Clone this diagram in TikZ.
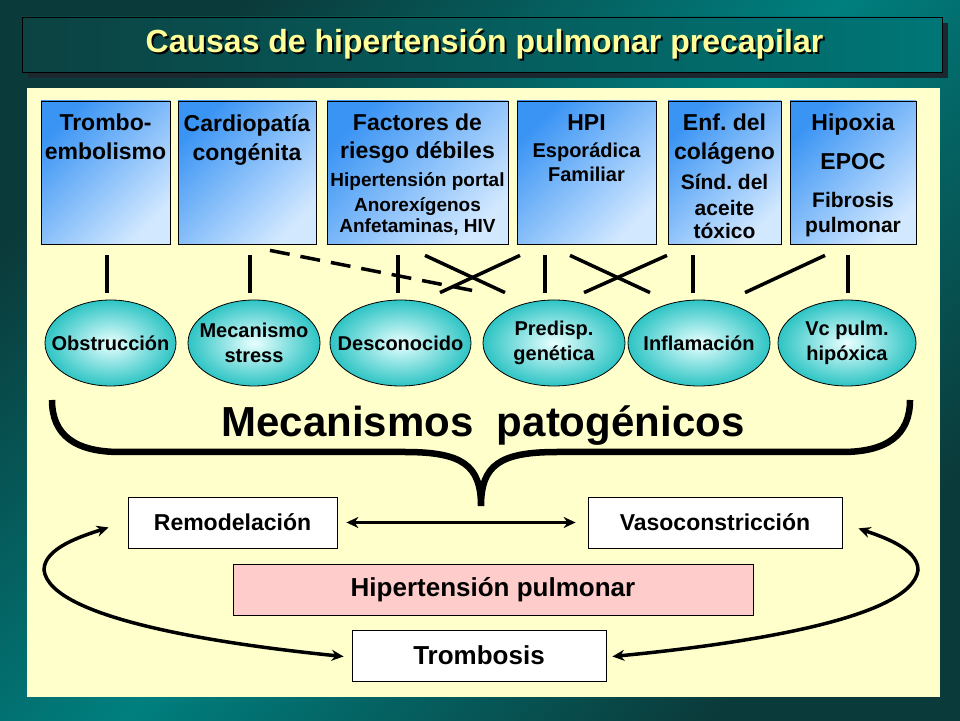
\documentclass[tikz,border=0pt]{standalone}
\usepackage{fontspec}
\setmainfont{Liberation Sans}
\usetikzlibrary{arrows.meta,positioning,calc,shapes.geometric}
\definecolor{hpBgDark}{HTML}{0B3A3A}
\definecolor{hpBgLight}{HTML}{007F7F}
\definecolor{hpBarDark}{HTML}{0C4242}
\definecolor{hpBarLight}{HTML}{007676}
\definecolor{hpShadow}{HTML}{1C2830}
\definecolor{hpTitle}{HTML}{FFFF99}
\definecolor{hpPanel}{HTML}{FFFFCC}
\definecolor{hpBlue}{HTML}{3A94F4}
\definecolor{hpBlueLight}{HTML}{D2E8FF}
\definecolor{hpCyan}{HTML}{2EC4C4}
\definecolor{hpCyanLight}{HTML}{E8FFFF}
\definecolor{hpPink}{HTML}{FFCCCC}
\newcommand\tline[3]{{\fontsize{#1}{#2}\selectfont\spaceskip=\fontdimen2\font\relax\xspaceskip=\spaceskip #3\par}}

\begin{document}
\begin{tikzpicture}[x=1pt,y=1pt,
  cause/.style={draw=black,line width=0.8pt,minimum height=143pt,inner sep=0pt,
    left color=hpBlue,right color=hpBlueLight,shading angle=45},
  causetxt/.style={inner sep=0pt,align=center,font=\bfseries},
  mech/.style={ellipse,draw=black,line width=0.8pt,minimum height=86pt,inner sep=0pt,
    inner color=hpCyanLight,outer color=hpCyan},
  mechtxt/.style={inner sep=0pt,align=center,font=\bfseries\fontsize{20}{25}\selectfont},
  effect/.style={draw=black,line width=0.8pt,fill=white,minimum height=51pt,inner sep=0pt,
    font=\bfseries\fontsize{23}{28}\selectfont},
  titletxt/.style={text=hpTitle,font=\bfseries\fontsize{32}{38}\selectfont},
  link/.style={line width=3.5pt},
  dbl/.style={line width=3.5pt,{Stealth[length=12pt,width=11pt]}-{Stealth[length=12pt,width=11pt]}}
]
\useasboundingbox (0,0) rectangle (960,720);
\fill[left color=hpBgDark,right color=hpBgDark,middle color=hpBgLight,shading angle=45] (0,0) rectangle (960,720);

\fill[hpShadow] (28,642) rectangle (948,697);
\node[draw=black,line width=0.8pt,minimum width=920pt,minimum height=55pt,inner sep=0pt,
  left color=hpBarDark,right color=hpBarLight] (bar) at (482,675.5) {};
\node[titletxt,text=black] (titleshadow) at ($(bar.center)+(4.5,-2)$) {Causas de hipertensión pulmonar precapilar};
\node[titletxt] (title) at ($(bar.center)+(2.5,0)$) {Causas de hipertensión pulmonar precapilar};

\fill[hpPanel] (27,23) rectangle (940,632);

\node[cause,minimum width=129pt] (c1) at (105.5,547.5) {};
\node[cause,minimum width=138pt] (c2) at (247,547.5) {};
\node[cause,minimum width=181pt] (c3) at (417.5,547.5) {};
\node[cause,minimum width=139pt] (c4) at (586.5,547.5) {};
\node[cause,minimum width=113pt] (c5) at (724.5,547.5) {};
\node[cause,minimum width=126pt] (c6) at (853,547.5) {};

\node[causetxt,text width=129pt,below=13.5pt of c1.north] (t1) {\tline{23}{29}{Trombo-}\tline{23}{29}{embolismo}};
\node[causetxt,text width=138pt,below=13.5pt of c2.north] (t2) {\tline{23}{29}{Cardiopatía}\tline{23}{29}{congénita}};
\node[causetxt,text width=181pt,below=13.5pt of c3.north] (t3) {\tline{23}{28}{Factores de}\tline{23}{28}{riesgo débiles}%
  \tline{19}{28}{Hipertensión portal}\tline{19}{25}{Anorexígenos}\tline{19}{21}{Anfetaminas, HIV}};
\node[causetxt,text width=139pt,below=13.5pt of c4.north] (t4) {\tline{23}{29}{HPI}\tline{20}{27}{Esporádica}\tline{20}{24}{Familiar}};
\node[causetxt,text width=113pt,below=13.5pt of c5.north] (t5) {\tline{23}{29}{Enf. del}\tline{23}{29}{colágeno}%
  \tline{21}{30}{Sínd. del}\tline{21}{26}{aceite}\tline{21}{23}{tóxico}};
\node[causetxt,text width=126pt,below=13.5pt of c6.north] (t6) {\tline{23}{29}{Hipoxia}\tline{23}{39}{EPOC}%
  \tline{21}{38}{Fibrosis}\tline{21}{25}{pulmonar}};

\node[mech,minimum width=131pt,label={[mechtxt]center:Obstrucción}] (e1) at (110.5,377) {};
\node[mech,minimum width=132pt,label={[mechtxt]center:{Mecanismo\\stress}}] (e2) at (254,377) {};
\node[mech,minimum width=141pt,label={[mechtxt]center:Desconocido}] (e3) at (400.5,377) {};
\node[mech,minimum width=142pt,label={[mechtxt]center:{Predisp.\\genética}}] (e4) at (554,377) {};
\node[mech,minimum width=142pt,label={[mechtxt]center:Inflamación}] (e5) at (699,377) {};
\node[mech,minimum width=138pt,label={[mechtxt]center:{Vc pulm.\\hipóxica}}] (e6) at (847,377) {};

\foreach \c/\dx/\e/\ex in {c1/1.5/e1/-3.5,c2/3/e2/-4,c3/-19.5/e3/-2.5,c4/-41.5/e4/-9,c5/-31.5/e5/-6,c6/-5/e6/1,
  c3/7.5/e4/-49,c4/-66.5/e3/39.5,c4/-16.5/e5/-49,c5/-57.5/e4/30,c6/-28/e5/46}
  \draw[link] ($(\c.south)+(\dx,-11)$) -- ($(\e.north)+(\ex,7)$);
\draw[link,dash pattern=on 20pt off 11pt] ($(c2.south)+(23,-6)$) -- ($(e4.north)+(-76,8)$);

\draw[line width=6.5pt] (52,320) .. controls (52,285) and (75,268) .. (120,268) -- (405,268)
  .. controls (462,268) and (481,255) .. (481,214) .. controls (481,255) and (500,268) .. (557,268)
  -- (842,268) .. controls (887,268) and (910,285) .. (910,320);
\node[anchor=base,inner sep=0pt,font=\bfseries\fontsize{42}{50}\selectfont] (mechs) at (483,283) {Mecanismos\ \ patogénicos};

\node[effect,minimum width=209pt] (remod) at (232.5,197.5) {Remodelación};
\node[effect,minimum width=254pt] (vaso) at (715,197.5) {Vasoconstricción};
\node[effect,minimum width=520pt,fill=hpPink,font=\bfseries\fontsize{26}{30}\selectfont] (hip) at (493,130.5) {Hipertensión pulmonar};
\node[effect,minimum width=254pt,font=\bfseries\fontsize{26}{30}\selectfont] (trom) at (479,64.5) {Trombosis};

\draw[dbl,shorten <=9pt,shorten >=12pt] (remod.east) -- (vaso.west);
\draw[dbl] ($(trom.west)+(-8,-1)$) .. controls (230,75) and (50,100) .. (44,150)
  .. controls (44,172) and (82,184) .. ($(remod.south west)+(-19,21)$);
\draw[dbl] ($(trom.east)+(6,-1)$) .. controls (732,75) and (912,100) .. (918,150)
  .. controls (918,172) and (880,184) .. ($(vaso.south east)+(16,20)$);
\end{tikzpicture}
\end{document}
